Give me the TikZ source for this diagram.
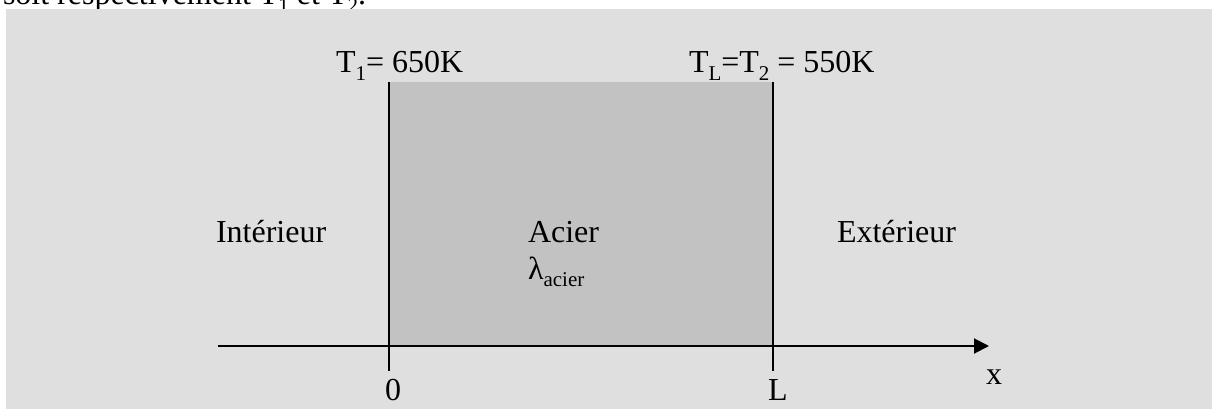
\documentclass[tikz,border=0pt]{standalone}
\usepackage{fontspec}
\setmainfont{Liberation Serif}
\usetikzlibrary{arrows.meta}
\definecolor{bgpanel}{RGB}{223,223,223}
\definecolor{steelfill}{RGB}{194,194,194}
\newcommand{\lowsub}[1]{\raisebox{-0.22em}{\fontsize{21}{21}\selectfont #1}}
\tikzset{
  lbl/.style={inner sep=0pt, outer sep=0pt, font=\fontsize{32}{38}\selectfont, anchor=base west},
  wall/.style={line width=2pt, black},
  axis/.style={line width=2pt, black, -{Triangle[length=15pt,width=15pt]}}
}
\begin{document}
\begin{tikzpicture}[x=1pt,y=-1pt]
\useasboundingbox (0,0) rectangle (1212,409);
\begin{scope}
\clip (0,0) rectangle (1212,409);
\fill[white] (0,0) rectangle (1212,409);
\node[lbl] (prev) at (3,5) {soit respectivement T\lowsub{1} et T\lowsub{2}.};
\fill[bgpanel] (6,9) rectangle (1212,409);
\end{scope}
% steel slab
\fill[steelfill] (389,82) rectangle (773,346);
\coordinate (w0top) at (389,82);
\coordinate (w0bot) at (389,371);
\coordinate (wLtop) at (773,82);
\coordinate (wLbot) at (773,371);
\draw[wall] (w0top) -- (w0bot);
\draw[wall] (wLtop) -- (wLbot);
% axis
\coordinate (axstart) at (218,346);
\coordinate (axend) at (989,346);
\draw[axis] (axstart) -- (axend);
% labels
\node[lbl] (t1) at (336,73) {T\lowsub{1}= 650K};
\node[lbl] (t2) at (689,73) {T\lowsub{L}=T\lowsub{2} = 550K};
\node[lbl] (int) at (216,242) {Intérieur};
\node[lbl] (acier) at (528,242) {Acier};
\node[lbl] (lam) at (528,279) {λ\lowsub{acier}};
\node[lbl] (ext) at (837,242) {Extérieur};
\node[lbl, anchor=base] (zero) at (393,400) {0};
\node[lbl, anchor=base] (lenL) at (778,400) {L};
\node[lbl] (xlab) at (986,384) {x};
\end{tikzpicture}
\end{document}
